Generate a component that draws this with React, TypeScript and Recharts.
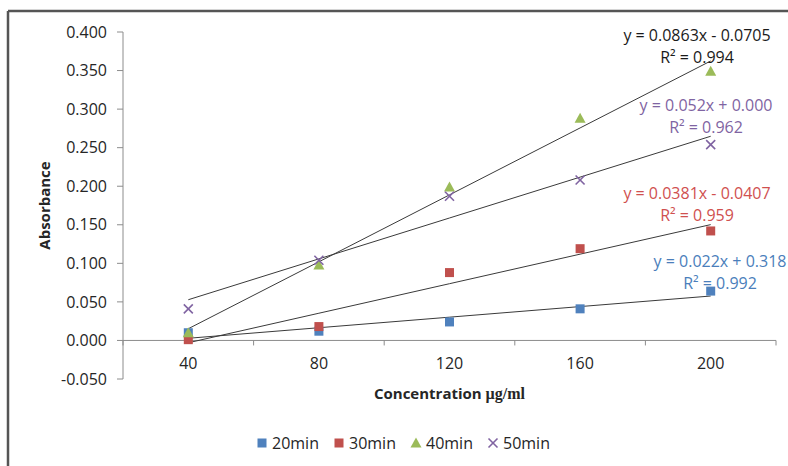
import { ComposedChart, Line, XAxis, YAxis, ReferenceLine } from "recharts"

const concentrations = ["40", "80", "120", "160", "200"]
const abs20min = [0.01, 0.012, 0.024, 0.041, 0.064]
const abs30min = [0.001, 0.018, 0.088, 0.119, 0.142]
const abs40min = [0.01, 0.098, 0.199, 0.288, 0.349]
const abs50min = [0.041, 0.104, 0.187, 0.208, 0.254]
const yTicks = [-0.05, 0, 0.05, 0.1, 0.15, 0.2, 0.25, 0.3, 0.35, 0.4]

const W = 788
const H = 466
const PLOT_LEFT = 123
const PLOT_RIGHT = 776
const PLOT_TOP = 32
const PLOT_BOTTOM = 379
const Y_MIN = -0.05
const Y_MAX = 0.4
const ZERO_Y = PLOT_TOP + (Y_MAX / (Y_MAX - Y_MIN)) * (PLOT_BOTTOM - PLOT_TOP)
const BAND = (PLOT_RIGHT - PLOT_LEFT) / concentrations.length

const AXIS = "#8c8c8c"
const TEXT = "#262626"
const FONT = "'Open Sans', 'DejaVu Sans', sans-serif"

type Marker = "square" | "triangle" | "cross"

const series = [
  { key: "m20", name: "20min", values: abs20min, color: "#4f81bd", marker: "square" as Marker,
    eq: "y = 0.022x + 0.318", r2: "R² = 0.992", labelColor: "#4a7ebb", lx: 720, ly: 261 },
  { key: "m30", name: "30min", values: abs30min, color: "#c0504d", marker: "square" as Marker,
    eq: "y = 0.0381x - 0.0407", r2: "R² = 0.959", labelColor: "#d0504f", lx: 697, ly: 193 },
  { key: "m40", name: "40min", values: abs40min, color: "#9bbb59", marker: "triangle" as Marker,
    eq: "y = 0.0863x - 0.0705", r2: "R² = 0.994", labelColor: "#1a1a1a", lx: 697, ly: 35 },
  { key: "m50", name: "50min", values: abs50min, color: "#8064a2", marker: "cross" as Marker,
    eq: "y = 0.052x + 0.000", r2: "R² = 0.962", labelColor: "#7f64a2", lx: 706, ly: 105 },
]

// least squares fit over category positions 1..n, like Excel's linear trendline
function trend(values: number[]) {
  const n = values.length
  const xs = values.map((_, i) => i + 1)
  const mx = xs.reduce((a, b) => a + b, 0) / n
  const my = values.reduce((a, b) => a + b, 0) / n
  let sxy = 0
  let sxx = 0
  xs.forEach((x, i) => {
    sxy += (x - mx) * (values[i] - my)
    sxx += (x - mx) * (x - mx)
  })
  const slope = sxy / sxx
  const intercept = my - slope * mx
  return xs.map((x) => intercept + slope * x)
}

const data = concentrations.map((conc, i) => {
  const row: Record<string, string | number> = { conc }
  series.forEach((s) => {
    row[s.key] = s.values[i]
    row[s.key + "Trend"] = trend(s.values)[i]
  })
  return row
})

function MarkerShape({ cx, cy, type, color }: { cx: number; cy: number; type: Marker; color: string }) {
  if (type === "square") {
    return <rect x={cx - 4.5} y={cy - 4.5} width={9} height={9} fill={color} />
  }
  if (type === "triangle") {
    return <polygon points={`${cx},${cy - 5.5} ${cx + 5.5},${cy + 4.5} ${cx - 5.5},${cy + 4.5}`} fill={color} />
  }
  return (
    <g stroke={color} strokeWidth={1.6}>
      <line x1={cx - 4.5} y1={cy - 4.5} x2={cx + 4.5} y2={cy + 4.5} />
      <line x1={cx - 4.5} y1={cy + 4.5} x2={cx + 4.5} y2={cy - 4.5} />
    </g>
  )
}

function ConcTick(props: any) {
  const { x, payload, index } = props
  const half = BAND / 2
  return (
    <g>
      <line x1={x - half} x2={x - half} y1={ZERO_Y} y2={ZERO_Y + 5} stroke={AXIS} />
      {index === concentrations.length - 1 && (
        <line x1={x + half} x2={x + half} y1={ZERO_Y} y2={ZERO_Y + 5} stroke={AXIS} />
      )}
      <text x={x} y={ZERO_Y + 23} textAnchor="middle" dominantBaseline="central"
        fill={TEXT} fontSize={16} fontFamily={FONT}>
        {payload.value}
      </text>
    </g>
  )
}

export default function App() {
  return (
    <div style={{ position: "absolute", left: 0, top: 0, width: W, height: H, background: "#fff" }}>
      <ComposedChart width={W} height={H} data={data}
        margin={{ top: PLOT_TOP, right: W - PLOT_RIGHT, left: PLOT_LEFT - 60, bottom: H - PLOT_BOTTOM - 30 }}>
        <XAxis dataKey="conc" type="category" scale="band" height={30} axisLine={false}
          tickLine={false} tick={<ConcTick />} interval={0} />
        <YAxis width={60} domain={[Y_MIN, Y_MAX]} ticks={yTicks} allowDataOverflow
          tickFormatter={(v: number) => v.toFixed(3)} tickSize={6} tickMargin={10}
          axisLine={{ stroke: AXIS }} tickLine={{ stroke: AXIS }}
          tick={{ fill: TEXT, fontSize: 16, fontFamily: FONT }} />
        <ReferenceLine y={0} stroke={AXIS} />
        {series.map((s) => (
          <Line key={s.key + "Trend"} dataKey={s.key + "Trend"} type="linear" stroke="#3a3a3a"
            strokeWidth={1} dot={false} activeDot={false} isAnimationActive={false} legendType="none" />
        ))}
        {series.map((s) => (
          <Line key={s.key} dataKey={s.key} name={s.name} stroke="none" isAnimationActive={false}
            activeDot={false}
            dot={(p: any) => (
              <MarkerShape key={s.key + "-" + p.index} cx={p.cx} cy={p.cy} type={s.marker} color={s.color} />
            )} />
        ))}
      </ComposedChart>
      <svg width={W} height={H} style={{ position: "absolute", left: 0, top: 0, pointerEvents: "none" }}>
        <line x1={8} y1={11} x2={W} y2={11} stroke="#555" strokeWidth={2.5} />
        <line x1={8} y1={11} x2={8} y2={H} stroke="#555" strokeWidth={2.5} />
        <text x={0} y={0} transform={`translate(44, ${(PLOT_TOP + PLOT_BOTTOM) / 2}) rotate(-90)`}
          textAnchor="middle" dominantBaseline="central" fontFamily={FONT} fontWeight={700}
          fontSize={15} fill={TEXT}>
          Absorbance
        </text>
        <text x={(PLOT_LEFT + PLOT_RIGHT) / 2} y={393} textAnchor="middle" dominantBaseline="central"
          fontFamily={FONT} fontWeight={700} fontSize={15} fill={TEXT}>
          Concentration{" "}
          <tspan fontFamily="'Liberation Serif', serif" fontSize={16}>µg/ml</tspan>
        </text>
        {series.map((s) => (
          <g key={s.key} fontFamily={FONT} fontSize={16} fill={s.labelColor} textAnchor="middle">
            <text x={s.lx} y={s.ly} dominantBaseline="central">{s.eq}</text>
            <text x={s.lx} y={s.ly + 22} dominantBaseline="central">{s.r2}</text>
          </g>
        ))}
        {series.map((s, i) => {
          const x0 = 262 + i * 77
          return (
            <g key={s.key}>
              <MarkerShape cx={x0} cy={443} type={s.marker} color={s.color} />
              <text x={x0 + 10} y={443} dominantBaseline="central" fontFamily={FONT} fontSize={16} fill={TEXT}>
                {s.name}
              </text>
            </g>
          )
        })}
      </svg>
    </div>
  )
}
